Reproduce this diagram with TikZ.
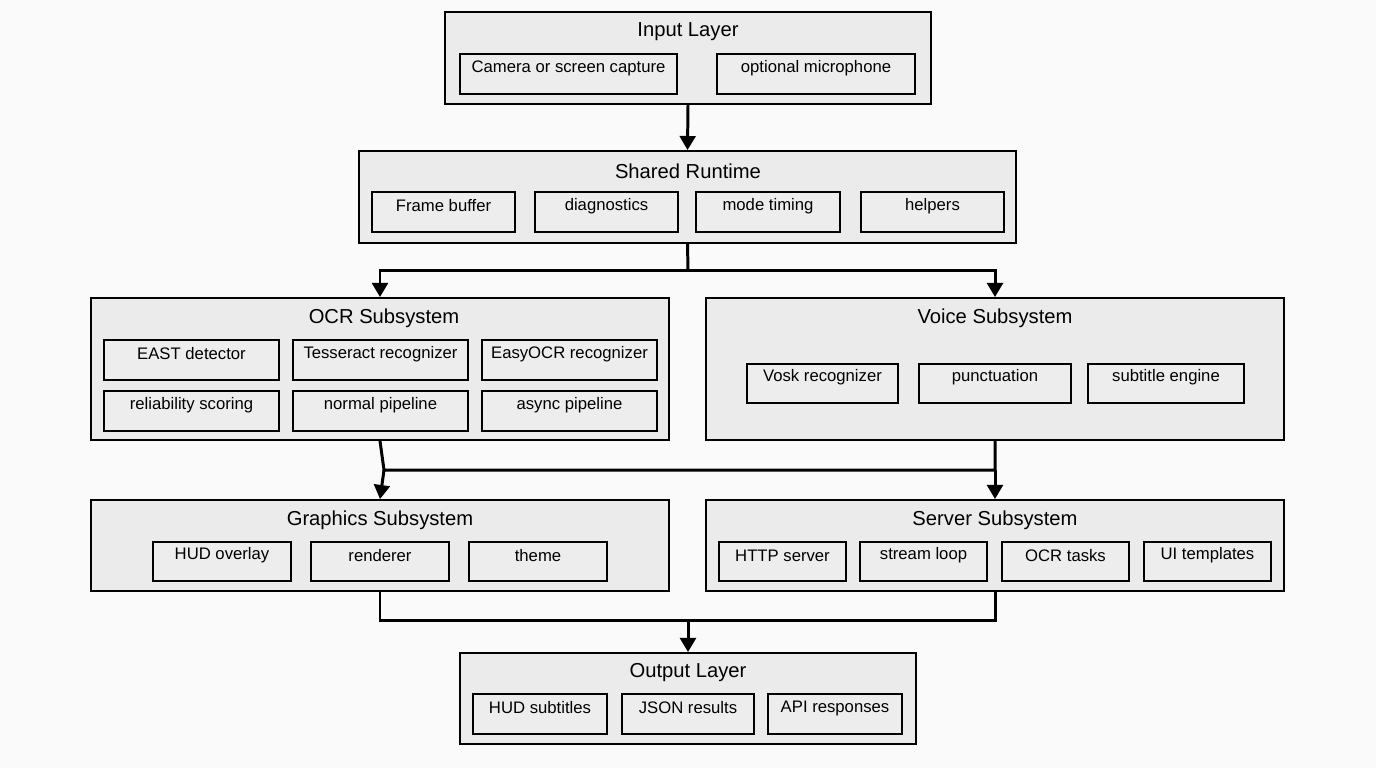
\documentclass[tikz,border=0pt]{standalone}
\usepackage{fontspec}
\setmainfont{Liberation Sans}
\usetikzlibrary{fit,arrows.meta}
\tikzset{
	layer/.style = {draw, line width=1.1pt, fill=black!8, inner sep=0pt},
	part/.style = {draw, line width=1.1pt, fill=black!7, inner sep=0pt, font=\fontsize{9.5}{11}\selectfont},
	heading/.style = {font=\fontsize{11.5}{13}\selectfont},
	flow/.style = {line width=1.7pt},
	flowarrow/.style = {line width=1.7pt, -{Triangle[length=8pt,width=9pt]}}
}
\begin{document}
\begin{tikzpicture}[x=0.02cm, y=-0.02cm]
		\fill[black!2] (0,0) rectangle (1376,768);
		\useasboundingbox (0,0) rectangle (1376,768);

		\node[layer, fit={(445,12)(931,104)}] (in){};
		\node[heading] at (688,32)(inT){Input Layer};
		\node[part, fit={(460,54)(677,94)}] (cam){Camera or screen capture};
		\node[part, fit={(717,54)(915,94)}] (mic){optional microphone};

		\node[layer, fit={(359,151)(1016,243)}] (rt){};
		\node[heading] at (688,171)(rtT){Shared Runtime};
		\node[part, fit={(372,192)(515,232)}] (fb){Frame buffer};
		\node[part, fit={(535,192)(678,232)}] (diag){diagnostics};
		\node[part, fit={(696,192)(840,232)}] (mt){mode timing};
		\node[part, fit={(861,192)(1004,232)}] (hlp){helpers};

		\node[layer, fit={(91,298)(669,440)}] (ocr){};
		\node[heading] at (384,318)(ocrT){OCR Subsystem};
		\node[part, fit={(104,340)(279,380)}] (east){EAST detector};
		\node[part, fit={(293,340)(468,380)}] (tess){Tesseract recognizer};
		\node[part, fit={(482,340)(657,380)}] (easy){EasyOCR recognizer};
		\node[part, fit={(104,391)(279,431)}] (rel){reliability scoring};
		\node[part, fit={(293,391)(468,431)}] (norm){normal pipeline};
		\node[part, fit={(482,391)(657,431)}] (async){async pipeline};

		\node[layer, fit={(706,298)(1284,440)}] (vc){};
		\node[heading] at (995,318)(vcT){Voice Subsystem};
		\node[part, fit={(747,364)(898,403)}] (vosk){Vosk recognizer};
		\node[part, fit={(919,364)(1071,403)}] (punc){punctuation};
		\node[part, fit={(1088,364)(1244,403)}] (sub){subtitle engine};

		\node[layer, fit={(91,500)(669,591)}] (gfx){};
		\node[heading] at (380,520)(gfxT){Graphics Subsystem};
		\node[part, fit={(153,542)(291,581)}] (hud){HUD overlay};
		\node[part, fit={(311,542)(449,581)}] (rnd){renderer};
		\node[part, fit={(469,542)(607,581)}] (thm){theme};

		\node[layer, fit={(706,500)(1284,591)}] (srv){};
		\node[heading] at (995,520)(srvT){Server Subsystem};
		\node[part, fit={(719,542)(846,581)}] (http){HTTP server};
		\node[part, fit={(860,542)(987,581)}] (strm){stream loop};
		\node[part, fit={(1002,542)(1129,581)}] (ocrt){OCR tasks};
		\node[part, fit={(1144,542)(1271,581)}] (ui){UI templates};

		\node[layer, fit={(460,653)(916,744)}] (out){};
		\node[heading] at (688,673)(outT){Output Layer};
		\node[part, fit={(473,694)(607,734)}] (hsub){HUD subtitles};
		\node[part, fit={(622,694)(754,734)}] (json){JSON results};
		\node[part, fit={(768,694)(902,734)}] (api){API responses};

		% connectors
		\coordinate (j1) at (688,270);
		\coordinate (j2l) at (384,470);
		\coordinate (j2r) at (995,470);
		\coordinate (j3) at (688,620);
		\draw[flowarrow] (in.south) -- (rt.north);
		\draw[flow] (rt.south) -- (j1);
		\draw[flowarrow] (j1) -| (ocr.north);
		\draw[flowarrow] (j1) -| (vc.north);
		\draw[flow] (ocr.south) -- (j2l) -- (j2r) -- (vc.south);
		\draw[flowarrow] (j2l) -- (gfx.north);
		\draw[flowarrow] (j2r) -- (srv.north);
		\draw[flow] (gfx.south) |- (j3) -| (srv.south);
		\draw[flowarrow] (j3) -- (out.north);
\end{tikzpicture}
\end{document}
